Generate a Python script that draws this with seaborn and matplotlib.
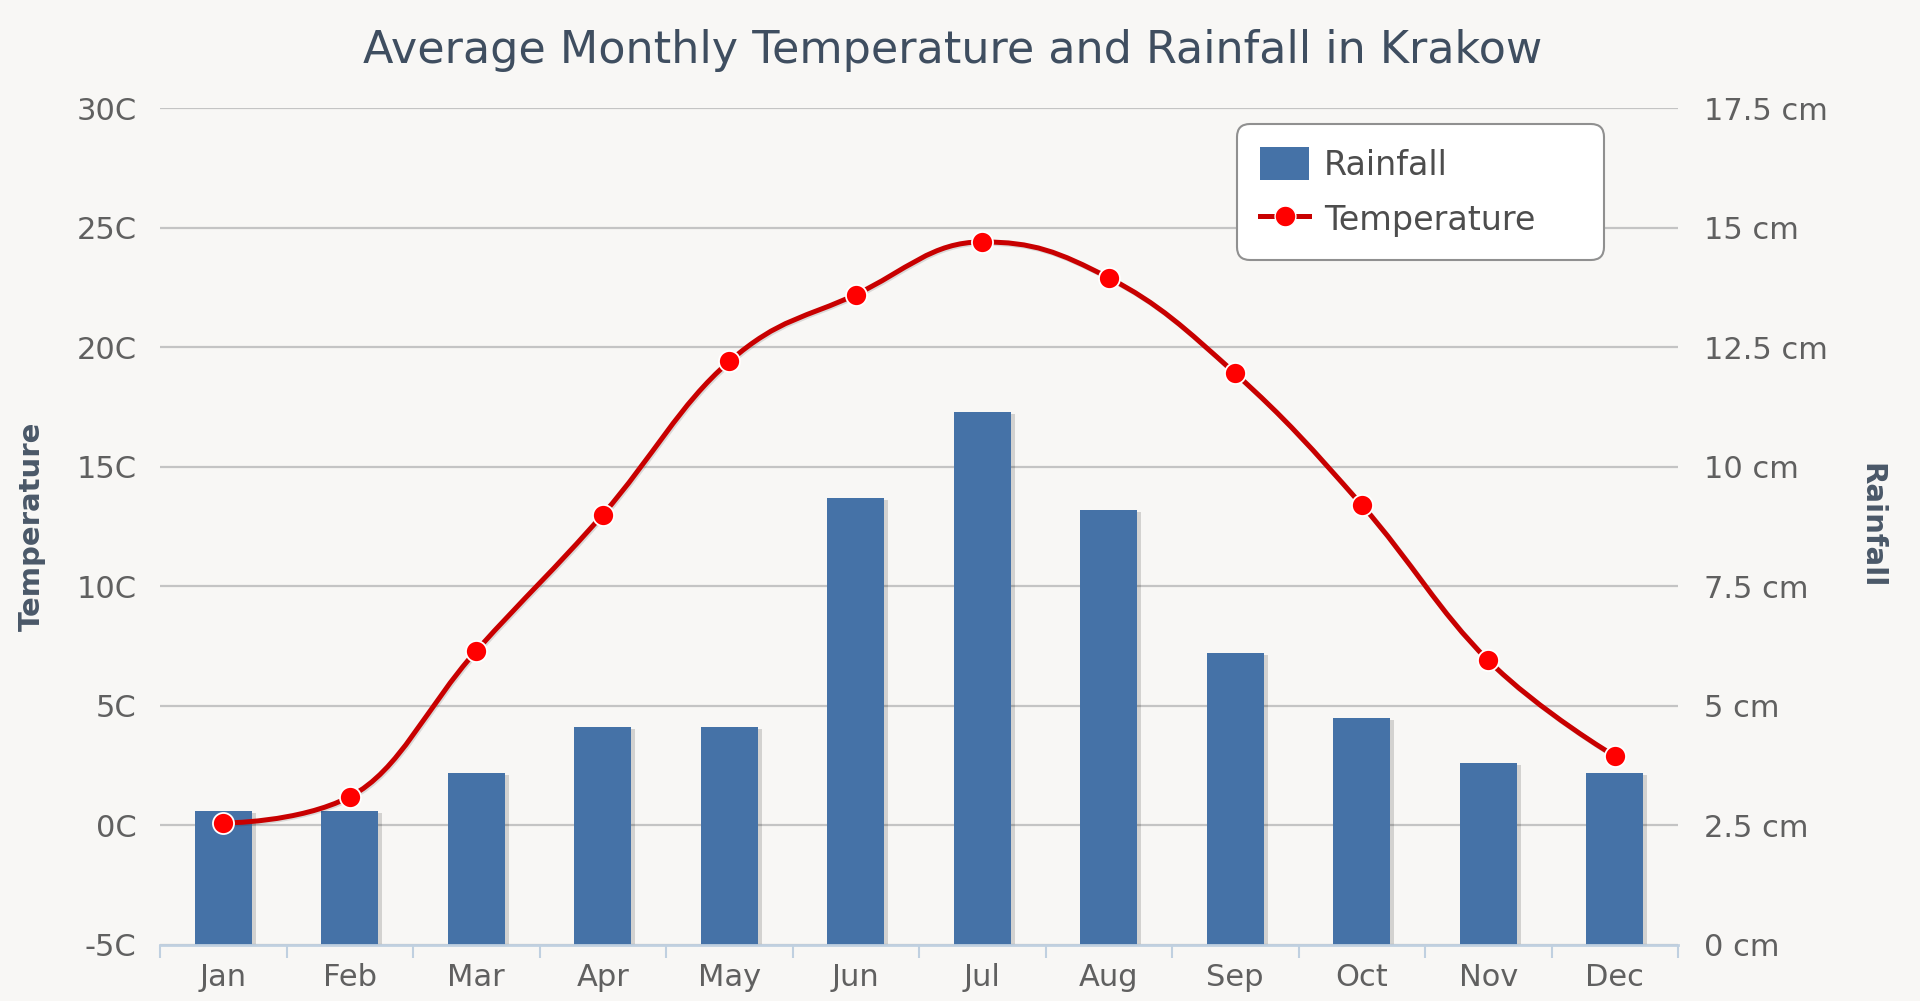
import numpy as np
import matplotlib
matplotlib.use('Agg')
import matplotlib.pyplot as plt
import matplotlib.patheffects as pe
from matplotlib.path import Path
from matplotlib.patches import PathPatch, Patch
from matplotlib.lines import Line2D
from matplotlib.ticker import FixedLocator
import seaborn as sns

# Veriler
months = ['Jan', 'Feb', 'Mar', 'Apr', 'May', 'Jun', 'Jul', 'Aug', 'Sep', 'Oct', 'Nov', 'Dec']
temperature = [0.1, 1.2, 7.3, 13.0, 19.4, 22.2, 24.4, 22.9, 18.9, 13.4, 6.9, 2.9]
rainfall = [2.8, 2.8, 3.6, 4.55, 4.55, 9.35, 11.15, 9.1, 6.1, 4.75, 3.8, 3.6]
temp_ticks = [-5, 0, 5, 10, 15, 20, 25, 30]
rain_ticks = [0, 2.5, 5, 7.5, 10, 12.5, 15, 17.5]

bg = '#f8f7f5'
bar_color = '#4572A7'
line_color = '#c80000'
text_grey = '#606060'
label_color = '#4a5868'


def spline_path(xs, ys):
    # Highcharts tarzı spline: her nokta için kontrol noktaları
    smoothing, denom = 1.5, 2.5
    n = len(xs)
    left = [None] * n
    right = [None] * n
    for i in range(n):
        x, y = xs[i], ys[i]
        if i == 0 or i == n - 1:
            left[i] = (x, y)
            right[i] = (x, y)
            continue
        lx, ly = xs[i - 1], ys[i - 1]
        nx, ny = xs[i + 1], ys[i + 1]
        lcx = (smoothing * x + lx) / denom
        lcy = (smoothing * y + ly) / denom
        rcx = (smoothing * x + nx) / denom
        rcy = (smoothing * y + ny) / denom
        corr = ((rcy - lcy) * (rcx - x)) / (rcx - lcx) + y - rcy
        lcy += corr
        rcy += corr
        if lcy > ly and lcy > y:
            lcy = max(ly, y)
            rcy = 2 * y - lcy
        elif lcy < ly and lcy < y:
            lcy = min(ly, y)
            rcy = 2 * y - lcy
        if rcy > ny and rcy > y:
            rcy = max(ny, y)
            lcy = 2 * y - rcy
        elif rcy < ny and rcy < y:
            rcy = min(ny, y)
            lcy = 2 * y - rcy
        left[i] = (lcx, lcy)
        right[i] = (rcx, rcy)
    verts = [(xs[0], ys[0])]
    codes = [Path.MOVETO]
    for i in range(1, n):
        verts += [right[i - 1], left[i], (xs[i], ys[i])]
        codes += [Path.CURVE4] * 3
    return Path(verts, codes)


plt.rcParams['font.family'] = ['DejaVu Sans']

fig = plt.figure(figsize=(19.2, 10.01), dpi=100, facecolor=bg)
ax1 = fig.add_axes([160 / 1920, 1 - 945 / 1001, 1518 / 1920, 837 / 1001])
ax2 = ax1.twinx()
ax1.set_zorder(ax2.get_zorder() + 1)
ax1.patch.set_visible(False)
ax2.patch.set_visible(False)

# Yağış çubukları (sağ eksen)
sns.barplot(x=months, y=rainfall, ax=ax2, color=bar_color, saturation=1, width=0.45, edgecolor='none')
for bar in ax2.patches:
    bar.set_path_effects([pe.SimplePatchShadow(offset=(3, -1.5), shadow_rgbFace='#000000', alpha=0.15), pe.Normal()])
ax2.set_ylim(0, 17.5)
ax2.yaxis.set_major_locator(FixedLocator(rain_ticks))
ax2.set_yticklabels([f'{t:g} cm' for t in rain_ticks])
ax2.set_axisbelow(True)
ax2.grid(axis='y', color='#c4c4c4', linewidth=1.6)
ax2.set_ylabel('')

# Sıcaklık eğrisi (sol eksen)
x_pos = np.arange(len(months))
ax1.add_patch(PathPatch(spline_path(x_pos, temperature), facecolor='none', edgecolor=line_color,
                        linewidth=3.6, zorder=3, capstyle='round',
                        path_effects=[pe.SimpleLineShadow(offset=(1, -1), shadow_color='#000000', alpha=0.12), pe.Normal()]))
sns.scatterplot(x=x_pos, y=temperature, ax=ax1, s=230, color='#ff0000', edgecolor='white', linewidth=1.3, zorder=4)
ax1.set_ylim(-5, 30)
ax1.set_yticks(temp_ticks)
ax1.set_yticklabels([f'{t}C' for t in temp_ticks])
ax1.set_xlim(-0.5, len(months) - 0.5)
ax1.set_xticks(x_pos)
ax1.set_xticklabels(months)
ax1.set_xticks(np.arange(-0.5, len(months)), minor=True)
ax1.grid(False)

for ax in (ax1, ax2):
    for s in ax.spines.values():
        s.set_visible(False)
ax1.spines['bottom'].set_visible(True)
ax1.spines['bottom'].set_color('#c0d0e0')
ax1.spines['bottom'].set_linewidth(2)

ax1.tick_params(axis='x', which='major', length=0, pad=13, labelsize=22, labelcolor=text_grey)
ax1.tick_params(axis='x', which='minor', length=9, width=1.5, color='#c0d0e0')
ax1.tick_params(axis='y', length=0, pad=17, labelsize=22, labelcolor=text_grey)
ax2.tick_params(axis='y', length=0, pad=19, labelsize=22, labelcolor=text_grey)

# Başlık ve eksen etiketleri
fig.text(0.496, 1 - 51 / 1001, 'Average Monthly Temperature and Rainfall in Krakow',
         ha='center', va='center', fontsize=32, color='#3f4e60')
fig.text(32 / 1920, 1 - 526 / 1001, 'Temperature', rotation=90, ha='center', va='center',
         fontsize=21, fontweight='bold', color=label_color)
fig.text(1871 / 1920, 1 - 526 / 1001, 'Rainfall', rotation=270, ha='center', va='center',
         fontsize=21, fontweight='bold', color=label_color)

# Lejant
handles = [Patch(facecolor=bar_color, edgecolor='none'),
           Line2D([], [], color=line_color, lw=3.6, marker='o', markersize=15,
                  markerfacecolor='#ff0000', markeredgecolor='white')]
leg = ax1.legend(handles, ['Rainfall', 'Temperature'], loc='upper left',
                 bbox_to_anchor=((1237 - 160) / 1518, (945 - 132) / 837, 367 / 1518, 0.01),
                 mode='expand', borderaxespad=0, fontsize=24, frameon=True, fancybox=True,
                 framealpha=1, facecolor='white', edgecolor='#909090', handlelength=1.45,
                 handleheight=1.15, handletextpad=0.45, borderpad=0.7, labelspacing=0.6)
leg.get_frame().set_linewidth(1.5)
leg.get_frame().set_boxstyle('round,pad=0,rounding_size=0.4')
for t in leg.get_texts():
    t.set_color('#4d4d4d')

fig.savefig('out.png', dpi=100, facecolor=bg)
